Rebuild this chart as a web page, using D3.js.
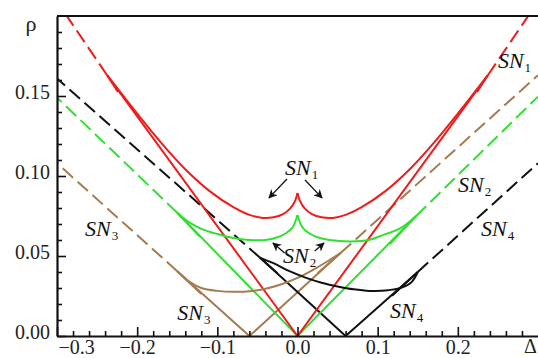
<!DOCTYPE html>
<html><head><meta charset="utf-8">
<script src="https://cdn.jsdelivr.net/npm/d3@7"></script>
<style>
html,body{margin:0;padding:0;background:#fff;}
svg{display:block;}
svg text{font-family:"Liberation Serif","Times New Roman","DejaVu Serif",serif;}
</style></head>
<body>
<svg id="c" width="538" height="358"></svg>
<script>
// ---- data (Δ, ρ) ----
const xTicksMajor = [-0.3, -0.2, -0.1, 0.0, 0.1, 0.2];
const yTicksMajor = [0.00, 0.05, 0.10, 0.15];

// SN1 (red)
const redV      = [[-0.2375,0.163],[0,0],[0.2375,0.163]];
const redDashL  = [[-0.2375,0.163],[-0.30,0.209]];
const redDashR  = [[0.2375,0.163],[0.30,0.209]];
const redUL = [[-0.2375,0.163],[-0.20,0.139],[-0.17,0.1207],[-0.14,0.1042],[-0.11,0.0907],[-0.08,0.0805],[-0.06,0.0757],[-0.043,0.0738],[-0.03,0.0742],[-0.018,0.0762],[-0.009,0.0798],[-0.003,0.0845],[0,0.0894]];
const redUR = [[0,0.0894],[0.003,0.0845],[0.009,0.0798],[0.018,0.0762],[0.03,0.0742],[0.044,0.0738],[0.06,0.0757],[0.08,0.0805],[0.11,0.0907],[0.14,0.1042],[0.17,0.1207],[0.20,0.139],[0.2375,0.163]];
const redTails = [[[-0.2375,0.163],[-0.224,0.1525]],[[0.2375,0.163],[0.224,0.1525]]];

// SN2 (green)
const greenV     = [[-0.150,0.077],[0,0],[0.148,0.075]];
const greenDashL = [[-0.150,0.077],[-0.30,0.149]];
const greenDashR = [[0.148,0.075],[0.30,0.1496]];
const greenUL = [[-0.150,0.077],[-0.135,0.071],[-0.12,0.067],[-0.10,0.0637],[-0.08,0.0612],[-0.06,0.0600],[-0.04,0.0600],[-0.025,0.0617],[-0.014,0.0644],[-0.006,0.068],[0,0.0756]];
const greenUR = [[0,0.0756],[0.006,0.068],[0.014,0.0644],[0.025,0.0617],[0.04,0.0600],[0.067,0.0591],[0.09,0.0602],[0.107,0.0632],[0.128,0.0672],[0.148,0.075]];
const greenTails = [[[-0.150,0.077],[-0.122,0.0622]],[[0.148,0.075],[0.115,0.0573]]];

// SN3 (brown)
const brownV     = [[-0.15,0.0405],[-0.06,0],[0.054,0.052]];
const brownDashL = [[-0.15,0.0405],[-0.30,0.108]];
const brownDashR = [[0.054,0.052],[0.30,0.163]];
const brownU = [[-0.15,0.0405],[-0.135,0.034],[-0.12,0.030],[-0.10,0.0282],[-0.08,0.0276],[-0.06,0.0279],[-0.04,0.0295],[-0.02,0.0323],[0.0,0.0363],[0.02,0.0415],[0.04,0.0475],[0.054,0.052]];
const brownTails = [[[-0.15,0.0405],[-0.12,0.0262]],[[0.054,0.052],[0.025,0.0392]]];

// SN4 (black)
const blackV     = [[-0.047,0.049],[0.06,0],[0.15,0.040]];
const blackDashL = [[-0.047,0.049],[-0.30,0.161]];
const blackDashR = [[0.15,0.040],[0.30,0.108]];
const blackU = [[-0.047,0.049],[-0.03,0.0455],[-0.01,0.0405],[0.01,0.0365],[0.03,0.0333],[0.05,0.031],[0.07,0.0292],[0.09,0.0282],[0.11,0.0284],[0.13,0.0302],[0.142,0.0335],[0.15,0.040]];
const blackTails = [[[0.15,0.040],[0.118,0.0252]],[[-0.047,0.049],[-0.025,0.0392]]];

// labels SN_k  (left x, baseline) in data coords
const labelSub = ["1","1","2","2","3","3","4","4"];
const labelX   = [0.250,-0.0156,0.2002,-0.0181,-0.265,-0.150,0.229,0.1154];
const labelY   = [0.1675,0.1006,0.090,0.0456,0.0625,0.010,0.0625,0.01125];

// arrows [tail, head]
const arrows = [
  [[-0.0131,0.0981],[-0.0356,0.0863]],
  [[0.0094,0.0975],[0.0306,0.0863]],
  [[-0.016,0.0519],[-0.0306,0.0581]],
  [[0.0215,0.0531],[0.033,0.0581]]
];

// ---- drawing ----
const L=57, R=538, T=16, B=336;
const svg = d3.select("#c");
const x = d3.scaleLinear([-0.3,0.3],[L,R]);
const y = d3.scaleLinear([0,0.2],[B,T]);

const RED="#ee1c1c", GREEN="#30e030", BROWN="#a67b4f", BLACK="#111111";

const defs = svg.append("defs");
defs.append("clipPath").attr("id","pc")
  .append("rect").attr("x",L).attr("y",T).attr("width",R-L).attr("height",B-T);
defs.append("marker").attr("id","ah").attr("viewBox","0 0 10 10")
  .attr("refX",9).attr("refY",5).attr("markerWidth",9).attr("markerHeight",9)
  .attr("markerUnits","userSpaceOnUse").attr("orient","auto")
  .append("path").attr("d","M0,0 L10,5 L0,10 L3,5 Z").attr("fill",BLACK);

const g = svg.append("g").attr("clip-path","url(#pc)");
const lin = d3.line().x(d=>x(d[0])).y(d=>y(d[1]));
const smooth = d3.line().x(d=>x(d[0])).y(d=>y(d[1])).curve(d3.curveCatmullRom.alpha(0.5));

function draw(data, color, gen, dash){
  g.append("path").attr("d",gen(data)).attr("fill","none")
   .attr("stroke",color).attr("stroke-width",2)
   .attr("stroke-linejoin","round")
   .attr("stroke-dasharray",dash||null);
}
const D="14,6";
[[redDashL,RED],[redDashR,RED],[greenDashL,GREEN],[greenDashR,GREEN],
 [brownDashL,BROWN],[brownDashR,BROWN],[blackDashL,BLACK],[blackDashR,BLACK]]
 .forEach(([d,c])=>draw(d,c,lin,D));
[[brownV,BROWN],[blackV,BLACK],[greenV,GREEN],[redV,RED]].forEach(([d,c])=>draw(d,c,lin));
brownTails.forEach(d=>draw(d,BROWN,lin));
blackTails.forEach(d=>draw(d,BLACK,lin));
greenTails.forEach(d=>draw(d,GREEN,lin));
redTails.forEach(d=>draw(d,RED,lin));
draw(brownU,BROWN,smooth);
draw(blackU,BLACK,smooth);
draw(greenUL,GREEN,smooth); draw(greenUR,GREEN,smooth);
draw(redUL,RED,smooth); draw(redUR,RED,smooth);

// axes
const xMinor = d3.range(-0.28,0.3,0.02).filter(v=>Math.abs(Math.round(v*10)-v*10)>1e-6);
const yMinor = d3.range(0.01,0.2,0.01).filter(v=>Math.abs(Math.round(v*20)-v*20)>1e-6);

const gx = svg.append("g").attr("transform",`translate(0,${B})`);
gx.call(d3.axisBottom(x).tickValues(xTicksMajor).tickFormat(d3.format(".1f"))
  .tickSizeInner(-9).tickSizeOuter(0).tickPadding(4));
const gxm = svg.append("g").attr("transform",`translate(0,${B})`);
gxm.call(d3.axisBottom(x).tickValues(xMinor).tickFormat("").tickSizeInner(-5).tickSizeOuter(0));
gxm.select(".domain").remove();

const gy = svg.append("g").attr("transform",`translate(${L},0)`);
gy.call(d3.axisLeft(y).tickValues(yTicksMajor).tickFormat(d3.format(".2f"))
  .tickSizeInner(-9).tickSizeOuter(0).tickPadding(7));
const gym = svg.append("g").attr("transform",`translate(${L},0)`);
gym.call(d3.axisLeft(y).tickValues(yMinor).tickFormat("").tickSizeInner(-5).tickSizeOuter(0));
gym.select(".domain").remove();

svg.selectAll("g").attr("font-family",null);
svg.selectAll(".domain").attr("stroke",BLACK).attr("stroke-width",2.2);
svg.selectAll(".tick line").attr("stroke",BLACK).attr("stroke-width",1.6);
svg.selectAll(".tick text").attr("font-size",20).attr("fill","#222");
gx.selectAll(".tick text").filter(d=>d===-0.3).attr("text-anchor","start").attr("x",1);
gy.selectAll(".tick text").attr("dy","0.1em");

// top border
svg.append("line").attr("x1",L).attr("x2",R).attr("y1",T).attr("y2",T)
  .attr("stroke",BLACK).attr("stroke-width",2.2);

// axis titles
svg.append("text").attr("x",31).attr("y",31).attr("text-anchor","middle")
  .attr("font-size",22).attr("fill","#222").text("ρ");
svg.append("text").attr("x",524).attr("y",353)
  .attr("font-size",20).attr("fill","#222").text("Δ");

// SN labels
labelSub.forEach((s,i)=>{
  const t = svg.append("text").attr("x",x(labelX[i])).attr("y",y(labelY[i]))
    .attr("font-size",22).attr("fill","#111");
  t.append("tspan").attr("font-style","italic").text("SN");
  t.append("tspan").attr("font-size",13).attr("dy",4).attr("dx",1).text(s);
});

// arrows
arrows.forEach(a=>{
  svg.append("line").attr("x1",x(a[0][0])).attr("y1",y(a[0][1]))
    .attr("x2",x(a[1][0])).attr("y2",y(a[1][1]))
    .attr("stroke",BLACK).attr("stroke-width",1.3).attr("marker-end","url(#ah)");
});
</script>
</body></html>
